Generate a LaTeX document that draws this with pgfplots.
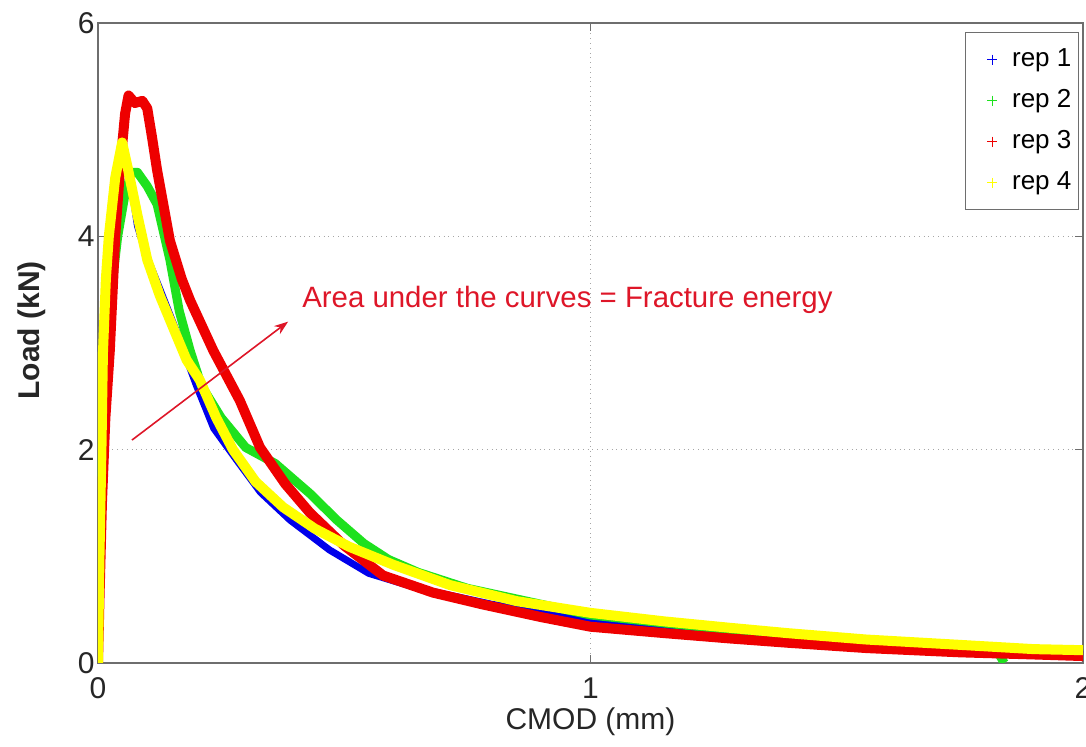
\documentclass[border=0pt]{standalone}
\usepackage{pgfplots}
\pgfplotsset{compat=1.18}
\usepackage{fontspec}
\setmainfont{Liberation Sans}
\usetikzlibrary{arrows.meta}
\definecolor{cblue}{RGB}{0,0,235}
\definecolor{cgreen}{RGB}{30,225,30}
\definecolor{cred}{RGB}{238,0,0}
\definecolor{cyel}{RGB}{255,255,0}
\definecolor{ctxt}{RGB}{222,22,40}
\definecolor{cframe}{RGB}{110,110,110}
\begin{document}
\begin{tikzpicture}
\useasboundingbox (-49pt,-42pt) rectangle (494pt,331.5pt);
\begin{axis}[
  scale only axis,
  width=492.5pt, height=320pt,
  xmin=0, xmax=2, ymin=0, ymax=6,
  xtick={0,1,2}, ytick={0,2,4,6},
  tick pos=both, tick align=inside,
  major tick length=4pt,
  axis line style={cframe, line width=0.8pt},
  every tick/.style={cframe, line width=0.6pt},
  grid=major,
  major grid style={dotted, gray!70, line width=0.6pt},
  /pgf/number format/assume math mode=true,
  ticklabel style={font=\fontsize{15}{17}\selectfont, text=black!85},
  xticklabel style={anchor=center, yshift=-12.5pt},
  yticklabel style={anchor=east, inner sep=0pt, xshift=-1.5pt},
  xlabel={CMOD (mm)},
  ylabel={\bfseries Load (kN)},
  label style={font=\fontsize{15}{17}\selectfont, text=black!85},
  xlabel style={at={(axis description cs:0.5,0)}, anchor=center, yshift=-29.5pt},
  ylabel style={at={(axis description cs:-0.067,0.52)}, anchor=center, rotate=0},
  legend style={at={(axis description cs:0.9959,0.986)}, anchor=north east,
    draw=cframe, line width=0.6pt, font=\fontsize{13}{13}\selectfont,
    inner xsep=3.5pt, inner ysep=7pt, row sep=7.5pt,
    nodes={inner sep=0pt, text height=10pt, text depth=3pt}, cells={anchor=west}},
  legend image code/.code={\path[draw=none,fill=none] (0pt,-2pt) rectangle (20pt,2pt); \draw[#1] plot coordinates {(10pt,0pt)};},
]
% rep 1 (blue)
\addplot[cblue, line width=3.5pt, line join=round, forget plot] coordinates {
(0,0)(0.004,1.0)(0.01,2.2)(0.02,3.2)(0.035,4.0)(0.05,4.35)(0.062,4.45)(0.072,4.35)(0.08,4.1)(0.1,3.8)(0.126,3.5)(0.16,3.1)(0.2,2.6)(0.235,2.2)(0.282,1.9)(0.33,1.6)(0.39,1.34)(0.47,1.06)(0.55,0.84)(0.65,0.70)(0.8,0.55)(1.0,0.40)(1.2,0.31)(1.4,0.24)(1.6,0.18)(1.8,0.13)(2.0,0.10)};
% rep 2 (green)
\addplot[cgreen, line width=4.5pt, line join=round, forget plot] coordinates {
(0,0)(0.003,0.8)(0.008,1.8)(0.015,2.7)(0.025,3.4)(0.04,4.0)(0.055,4.4)(0.068,4.6)(0.08,4.6)(0.1,4.47)(0.12,4.3)(0.146,3.78)(0.165,3.3)(0.187,2.93)(0.21,2.6)(0.25,2.3)(0.30,2.02)(0.36,1.87)(0.43,1.59)(0.485,1.34)(0.54,1.12)(0.59,0.97)(0.65,0.85)(0.75,0.70)(0.9,0.55)(1.0,0.45)(1.2,0.35)(1.4,0.26)(1.6,0.18)(1.8,0.12)(1.83,0.08)(1.84,0.0)};
% rep 3 (red)
\addplot[cred, line width=5pt, line join=round, forget plot] coordinates {
(0,0)(0.003,0.6)(0.008,1.5)(0.015,2.3)(0.024,2.93)(0.035,4.0)(0.045,4.65)(0.055,5.15)(0.062,5.32)(0.075,5.25)(0.09,5.27)(0.1,5.2)(0.11,4.92)(0.12,4.62)(0.146,3.96)(0.17,3.6)(0.187,3.40)(0.234,2.93)(0.288,2.46)(0.329,2.02)(0.38,1.68)(0.43,1.41)(0.5,1.1)(0.579,0.82)(0.68,0.66)(0.78,0.55)(0.9,0.43)(1.0,0.34)(1.15,0.28)(1.283,0.23)(1.4,0.19)(1.56,0.14)(1.75,0.10)(1.9,0.08)(2.0,0.065)};
% rep 4 (yellow)
\addplot[cyel, line width=5pt, line join=round, forget plot] coordinates {
(0,0)(0.003,1.0)(0.007,2.0)(0.01,2.9)(0.016,3.6)(0.022,4.0)(0.035,4.55)(0.049,4.88)(0.06,4.65)(0.08,4.2)(0.1,3.78)(0.125,3.45)(0.152,3.15)(0.18,2.84)(0.207,2.65)(0.24,2.3)(0.274,2.0)(0.32,1.7)(0.376,1.46)(0.44,1.26)(0.51,1.09)(0.6,0.92)(0.715,0.73)(0.85,0.58)(1.0,0.47)(1.15,0.39)(1.283,0.33)(1.4,0.28)(1.56,0.22)(1.75,0.17)(1.9,0.13)(2.0,0.12)};
\addlegendimage{only marks, mark=+, mark size=2.5pt, color=cblue, draw=cblue, mark options={draw=cblue, line width=0.6pt}}
\addlegendentry{rep 1}
\addlegendimage{only marks, mark=+, mark size=2.5pt, color=cgreen, draw=cgreen, mark options={draw=cgreen, line width=0.6pt}}
\addlegendentry{rep 2}
\addlegendimage{only marks, mark=+, mark size=2.5pt, color=cred, draw=cred, mark options={draw=cred, line width=0.6pt}}
\addlegendentry{rep 3}
\addlegendimage{only marks, mark=+, mark size=2.5pt, color=cyel, draw=cyel, mark options={draw=cyel, line width=0.6pt}}
\addlegendentry{rep 4}
\draw[ctxt, line width=0.8pt, -{Stealth[length=7pt,width=5pt]}] (axis cs:0.069,2.09) -- (axis cs:0.386,3.20);
\node[anchor=base west, inner sep=0pt, text=ctxt, font=\fontsize{14.7}{17}\selectfont] at (axis cs:0.414,3.336) {Area under the curves = Fracture energy};
\end{axis}
\end{tikzpicture}
\end{document}
